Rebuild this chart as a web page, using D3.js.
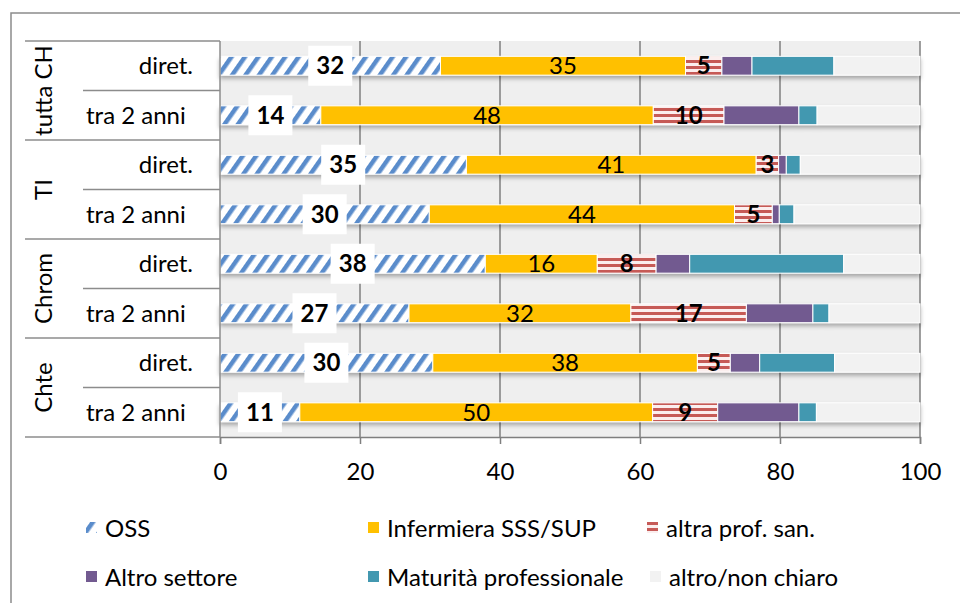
<!DOCTYPE html>
<html>
<head>
<meta charset="utf-8">
<script src="https://cdn.jsdelivr.net/npm/d3@7"></script>
<style>
  body { margin: 0; background: #fff; }
  text { font-family: Lato, "Open Sans", sans-serif; fill: #000; }
</style>
</head>
<body>
<div id="container"></div>
<script>
// Data (percent of respondents)
const groups = ["tutta CH", "TI", "Chrom", "Chte"];
const periods = ["diret.", "tra 2 anni"];
const series = ["OSS", "Infermiera SSS/SUP", "altra prof. san.", "Altro settore", "Maturità professionale", "altro/non chiaro"];
const oss = [31.5, 14.4, 35.2, 29.9, 37.9, 27.0, 30.4, 11.4];
const infermiera = [35.0, 47.5, 41.4, 43.6, 16.0, 31.7, 37.8, 50.4];
const altraProf = [5.2, 10.1, 3.2, 5.4, 8.4, 16.5, 4.7, 9.3];
const altroSettore = [4.3, 10.7, 1.1, 1.0, 4.8, 9.5, 4.2, 11.6];
const maturita = [11.7, 2.6, 2.0, 2.1, 22.0, 2.3, 10.7, 2.5];
const altroNonChiaro = [12.3, 14.7, 17.1, 18.0, 10.9, 13.0, 12.2, 14.8];
const xTicks = [0, 20, 40, 60, 80, 100];

const width = 960;
const height = 603;
const marginLeft = 220;
const marginRight = 40;
const marginTop = 41;
const plotBottom = 437;

const rows = groups.flatMap((g) => periods.map((p) => ({ group: g, period: p })));
const table = rows.map((r, i) => ({
  key: r.group + "|" + r.period,
  group: r.group,
  period: r.period,
  values: [oss[i], infermiera[i], altraProf[i], altroSettore[i], maturita[i], altroNonChiaro[i]]
}));

const x = d3.scaleLinear().domain([0, 100]).range([marginLeft, width - marginRight]);
const y = d3.scaleBand().domain(table.map((d) => d.key)).range([marginTop, plotBottom]).paddingInner(0.62).paddingOuter(0.31);

const svg = d3.create("svg").attr("width", width).attr("height", height);
const defs = svg.append("defs");

// stripe patterns
const pOss = defs.append("pattern").attr("id", "pOss").attr("patternUnits", "userSpaceOnUse")
  .attr("width", 11).attr("height", 11).attr("patternTransform", "rotate(35)");
pOss.append("rect").attr("width", 11).attr("height", 11).attr("fill", "#fff");
pOss.append("rect").attr("width", 4.5).attr("height", 11).attr("fill", "#5a8ccb");

const pAltra = defs.append("pattern").attr("id", "pAltra").attr("patternUnits", "userSpaceOnUse")
  .attr("width", 10).attr("height", 6);
pAltra.append("rect").attr("width", 10).attr("height", 6).attr("fill", "#fbeeee");
pAltra.append("rect").attr("y", 0).attr("width", 10).attr("height", 3).attr("fill", "#c65a57");

const shadow = defs.append("filter").attr("id", "shadow").attr("x", "-5%").attr("y", "-30%").attr("width", "110%").attr("height", "180%");
shadow.append("feDropShadow").attr("dx", 0).attr("dy", 3).attr("stdDeviation", 2)
  .attr("flood-color", "#000").attr("flood-opacity", 0.3);

const fills = ["url(#pOss)", "#ffc000", "url(#pAltra)", "#725a90", "#4398b0", "#f2f2f2"];

// outer chart border
svg.append("rect").attr("x", 11).attr("y", 13).attr("width", 1000).attr("height", 700)
  .attr("fill", "none").attr("stroke", "#8c8c8c").attr("stroke-width", 1.5);

// plot background
svg.append("rect").attr("x", x(0)).attr("y", marginTop).attr("width", x(100) - x(0)).attr("height", plotBottom - marginTop)
  .attr("fill", "#efefef");

// gridlines
svg.append("g").selectAll("line").data(xTicks.slice(1)).join("line")
  .attr("x1", (d) => x(d)).attr("x2", (d) => x(d))
  .attr("y1", marginTop).attr("y2", plotBottom)
  .attr("stroke", "#7f7f7f").attr("stroke-width", 1.5);

// stacked bars
const stack = table.map((d) => {
  let acc = 0;
  return d.values.map((v, j) => {
    const seg = { key: d.key, j, x0: acc, x1: acc + v, v };
    acc += v;
    return seg;
  });
});

const barG = svg.append("g").selectAll("g").data(stack).join("g").attr("filter", "url(#shadow)");
barG.selectAll("rect").data((d) => d).join("rect")
  .attr("x", (d) => x(d.x0))
  .attr("y", (d) => y(d.key))
  .attr("width", (d) => x(d.x1) - x(d.x0))
  .attr("height", y.bandwidth())
  .attr("fill", (d) => fills[d.j])
  .attr("stroke", "#fff")
  .attr("stroke-width", 1);

// labels
const labelG = svg.append("g");
stack.forEach((segs) => {
  const cy = y(segs[0].key) + y.bandwidth() / 2;
  const s0 = segs[0];
  const cx0 = x((s0.x0 + s0.x1) / 2);
  labelG.append("rect").attr("x", cx0 - 22).attr("y", cy - 20).attr("width", 44).attr("height", 40).attr("fill", "#fff");
  labelG.append("text").attr("x", cx0).attr("y", cy).attr("dy", "0.36em").attr("text-anchor", "middle")
    .attr("font-size", 24).attr("font-weight", "bold").text(Math.round(s0.v));
  const s1 = segs[1];
  labelG.append("text").attr("x", x((s1.x0 + s1.x1) / 2)).attr("y", cy).attr("dy", "0.36em").attr("text-anchor", "middle")
    .attr("font-size", 24).text(Math.round(s1.v));
  const s2 = segs[2];
  labelG.append("text").attr("x", x((s2.x0 + s2.x1) / 2)).attr("y", cy).attr("dy", "0.36em").attr("text-anchor", "middle")
    .attr("font-size", 24).attr("font-weight", "bold").text(Math.round(s2.v));
});

// x axis
const xAxis = svg.append("g").attr("transform", `translate(0,${plotBottom})`)
  .call(d3.axisBottom(x).tickValues(xTicks).tickSize(7).tickPadding(19));
xAxis.select(".domain").attr("stroke", "#7f7f7f").attr("stroke-width", 1.5);
xAxis.selectAll(".tick line").attr("stroke", "#7f7f7f").attr("stroke-width", 1.5);
xAxis.selectAll(".tick text").attr("font-size", 24).attr("font-family", "Lato, sans-serif").attr("fill", "#000");

// category table on the left
const catG = svg.append("g").attr("stroke", "#8c8c8c").attr("stroke-width", 1.5);
catG.append("line").attr("x1", x(0)).attr("x2", x(0)).attr("y1", marginTop).attr("y2", plotBottom);
groups.forEach((g, i) => {
  const top = marginTop + i * 2 * y.step();
  catG.append("line").attr("x1", 25).attr("x2", x(0)).attr("y1", top).attr("y2", top);
  catG.append("line").attr("x1", 83).attr("x2", x(0)).attr("y1", top + y.step()).attr("y2", top + y.step());
});
catG.append("line").attr("x1", 25).attr("x2", x(0)).attr("y1", plotBottom).attr("y2", plotBottom);

groups.forEach((g, i) => {
  const cy = marginTop + (i * 2 + 1) * y.step();
  svg.append("text").attr("transform", `translate(43,${cy}) rotate(-90)`).attr("dy", "0.36em")
    .attr("text-anchor", "middle").attr("font-size", 24).text(g);
});
table.forEach((d) => {
  const cy = y(d.key) + y.bandwidth() / 2;
  const t = svg.append("text").attr("y", cy).attr("dy", "0.36em").attr("font-size", 24).text(d.period);
  if (d.period === periods[0]) t.attr("x", 193).attr("text-anchor", "end");
  else t.attr("x", 86);
});

// legend
const legendPos = [[86, 528], [368, 528], [647, 528], [86, 577], [368, 577], [650, 577]];
const leg = svg.append("g").selectAll("g").data(series).join("g")
  .attr("transform", (d, i) => `translate(${legendPos[i][0]},${legendPos[i][1]})`);
leg.append("rect").attr("x", 0).attr("y", -6).attr("width", 11).attr("height", 11)
  .attr("fill", (d, i) => fills[i]);
leg.append("text").attr("x", 19).attr("dy", "0.36em").attr("font-size", 24).text((d) => d);

document.getElementById("container").append(svg.node());
</script>
</body>
</html>
